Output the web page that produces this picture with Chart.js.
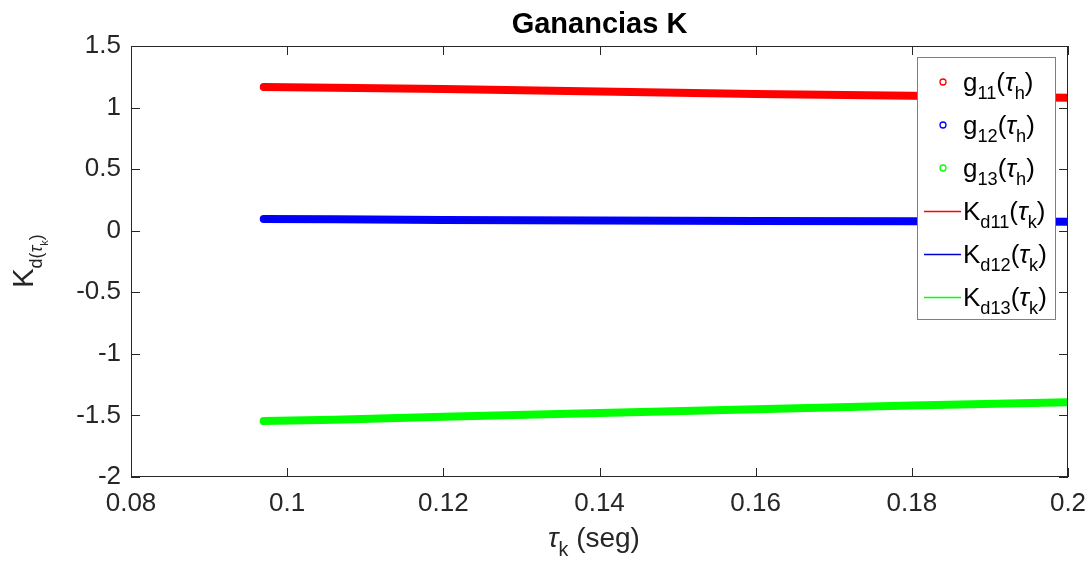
<!DOCTYPE html>
<html>
<head>
<meta charset="utf-8">
<script src="https://cdn.jsdelivr.net/npm/chart.js@4.4.1/dist/chart.umd.min.js"></script>
<style>
  body { margin: 0; background: #fff; }
  #wrap { width: 1092px; height: 574px; }
</style>
</head>
<body>
<div id="wrap"><canvas id="myChart" width="1092" height="574"></canvas></div>
<script>
// values
const tauK = [0.097, 0.106, 0.12, 0.14, 0.16, 0.18, 0.2];
const g11 = [1.167, 1.16, 1.15, 1.13, 1.11, 1.095, 1.08];
const g12 = [0.095, 0.093, 0.086, 0.082, 0.079, 0.076, 0.072];
const g13 = [-1.546, -1.535, -1.51, -1.48, -1.45, -1.42, -1.392];
const xTicks = [0.08, 0.1, 0.12, 0.14, 0.16, 0.18, 0.2];
const yTicks = [-2, -1.5, -1, -0.5, 0, 0.5, 1, 1.5];

const axisColor = "#262626";
const FONT = "'Liberation Sans', Arial, sans-serif";

function pts(ys) {
  return tauK.map((x, i) => ({ x: x, y: ys[i] }));
}

// draws text made of pieces, some as subscripts / italic
// p.sub: 1 = subscript, 2 = sub-subscript
function drawRich(ctx, parts, x, y, size, ratio) {
  let cx = x;
  parts.forEach((p) => {
    const lvl = p.sub || 0;
    const s = size * Math.pow(ratio, lvl);
    let dy = 0;
    if (lvl >= 1) dy += size * 0.32;
    if (lvl >= 2) dy += size * ratio * 0.32;
    ctx.font = (p.it ? "italic " : "") + s + "px " + FONT;
    ctx.fillText(p.t, cx, y + dy);
    cx += ctx.measureText(p.t).width;
  });
  return cx - x;
}

function richWidth(ctx, parts, size, ratio) {
  let w = 0;
  parts.forEach((p) => {
    const s = size * Math.pow(ratio, p.sub || 0);
    ctx.font = (p.it ? "italic " : "") + s + "px " + FONT;
    w += ctx.measureText(p.t).width;
  });
  return w;
}

const legendItems = [
  { color: "#ff0000", marker: true, parts: [{ t: "g" }, { t: "11", sub: 1 }, { t: "(" }, { t: "τ", it: true }, { t: "h", sub: 1 }, { t: ")" }] },
  { color: "#0000ff", marker: true, parts: [{ t: "g" }, { t: "12", sub: 1 }, { t: "(" }, { t: "τ", it: true }, { t: "h", sub: 1 }, { t: ")" }] },
  { color: "#00ff00", marker: true, parts: [{ t: "g" }, { t: "13", sub: 1 }, { t: "(" }, { t: "τ", it: true }, { t: "h", sub: 1 }, { t: ")" }] },
  { color: "#ff0000", marker: false, parts: [{ t: "K" }, { t: "d11", sub: 1 }, { t: "(" }, { t: "τ", it: true }, { t: "k", sub: 1 }, { t: ")" }] },
  { color: "#0000d0", marker: false, parts: [{ t: "K" }, { t: "d12", sub: 1 }, { t: "(" }, { t: "τ", it: true }, { t: "k", sub: 1 }, { t: ")" }] },
  { color: "#00ff00", marker: false, parts: [{ t: "K" }, { t: "d13", sub: 1 }, { t: "(" }, { t: "τ", it: true }, { t: "k", sub: 1 }, { t: ")" }] },
];

const matlabLook = {
  id: "matlabLook",
  afterDraw(chart) {
    const ctx = chart.ctx;
    const a = chart.chartArea;
    const xs = chart.scales.x;
    const ys = chart.scales.y;
    ctx.save();

    // box + inward ticks
    ctx.strokeStyle = axisColor;
    ctx.lineWidth = 1;
    ctx.strokeRect(a.left + 0.5, a.top + 0.5, a.right - a.left - 1, a.bottom - a.top - 1);
    ctx.beginPath();
    xTicks.forEach((v) => {
      const px = Math.round(xs.getPixelForValue(v)) + 0.5;
      ctx.moveTo(px, a.bottom); ctx.lineTo(px, a.bottom - 9);
      ctx.moveTo(px, a.top); ctx.lineTo(px, a.top + 9);
    });
    yTicks.forEach((v) => {
      const py = Math.round(ys.getPixelForValue(v)) + 0.5;
      ctx.moveTo(a.left, py); ctx.lineTo(a.left + 9, py);
      ctx.moveTo(a.right, py); ctx.lineTo(a.right - 9, py);
    });
    ctx.stroke();

    // title
    ctx.fillStyle = "#000";
    ctx.textAlign = "center";
    ctx.textBaseline = "alphabetic";
    ctx.font = "bold 29px " + FONT;
    ctx.fillText("Ganancias K", (a.left + a.right) / 2, 33);

    // x axis label
    ctx.fillStyle = axisColor;
    ctx.textAlign = "left";
    const xl = [{ t: "τ", it: true }, { t: "k", sub: 1 }, { t: " (seg)" }];
    const xw = richWidth(ctx, xl, 28, 0.7);
    drawRich(ctx, xl, 594 - xw / 2, 547, 28, 0.7);

    // y axis label (rotated)
    ctx.save();
    ctx.translate(33, 261);
    ctx.rotate(-Math.PI / 2);
    const yl = [{ t: "K" }, { t: "d(", sub: 1 }, { t: "τ", it: true, sub: 1 }, { t: "k", sub: 2 }, { t: ")", sub: 1 }];
    const yw = richWidth(ctx, yl, 29, 0.62);
    drawRich(ctx, yl, -yw / 2, 0, 29, 0.62);
    ctx.restore();

    // legend
    const lx = 917, ly = 57, lw = 138, lh = 262;
    ctx.fillStyle = "#fff";
    ctx.fillRect(lx, ly, lw, lh);
    ctx.strokeStyle = "#7f7f7f";
    ctx.lineWidth = 1;
    ctx.strokeRect(lx + 0.5, ly + 0.5, lw, lh);
    legendItems.forEach((it, i) => {
      const cy = 82 + i * 43;
      ctx.strokeStyle = it.color;
      ctx.lineWidth = 1.3;
      ctx.beginPath();
      if (it.marker) {
        ctx.arc(943, cy, 3, 0, Math.PI * 2);
      } else {
        ctx.moveTo(924, cy + 0.5);
        ctx.lineTo(961, cy + 0.5);
      }
      ctx.stroke();
      ctx.fillStyle = "#000";
      drawRich(ctx, it.parts, 963, cy + 9, 26, 0.7);
    });

    ctx.restore();
  },
};

const thick = (label, ys, color) => ({
  label: label,
  data: pts(ys),
  borderColor: color,
  backgroundColor: color,
  borderWidth: 8,
  borderCapStyle: "round",
  borderJoinStyle: "round",
  pointRadius: 0,
  showLine: true,
});

const thin = (label, ys, color) => ({
  label: label,
  data: pts(ys),
  borderColor: color,
  borderWidth: 1,
  pointRadius: 0,
  showLine: true,
});

new Chart(document.getElementById("myChart"), {
  type: "scatter",
  data: {
    datasets: [
      thin("Kd11", g11, "#ff0000"),
      thin("Kd12", g12, "#0000d0"),
      thin("Kd13", g13, "#00ff00"),
      thick("g11", g11, "#ff0000"),
      thick("g12", g12, "#0000ff"),
      thick("g13", g13, "#00ff00"),
    ],
  },
  options: {
    responsive: false,
    animation: false,
    layout: { padding: { top: 46, right: 24, left: 0, bottom: 0 } },
    plugins: {
      legend: { display: false },
      tooltip: { enabled: false },
    },
    scales: {
      x: {
        type: "linear",
        min: 0.08,
        max: 0.2,
        afterBuildTicks: (s) => { s.ticks = xTicks.map((v) => ({ value: v })); },
        afterFit: (s) => {
          s.height = 97;
          s.paddingLeft = 0;
          s.paddingRight = 0;
        },
        grid: { display: false, drawTicks: false },
        border: { display: false },
        ticks: {
          padding: 11,
          color: axisColor,
          font: { family: FONT, size: 26 },
          maxRotation: 0,
          callback: (v) => String(parseFloat(v.toFixed(2))),
        },
      },
      y: {
        type: "linear",
        min: -2,
        max: 1.5,
        afterBuildTicks: (s) => { s.ticks = yTicks.map((v) => ({ value: v })); },
        afterFit: (s) => {
          s.width = 131;
          s.paddingTop = 0;
          s.paddingBottom = 0;
        },
        grid: { display: false, drawTicks: false },
        border: { display: false },
        ticks: {
          padding: 10,
          color: axisColor,
          font: { family: FONT, size: 26 },
          callback: (v) => String(parseFloat(v.toFixed(2))),
        },
      },
    },
  },
  plugins: [matlabLook],
});
</script>
</body>
</html>
